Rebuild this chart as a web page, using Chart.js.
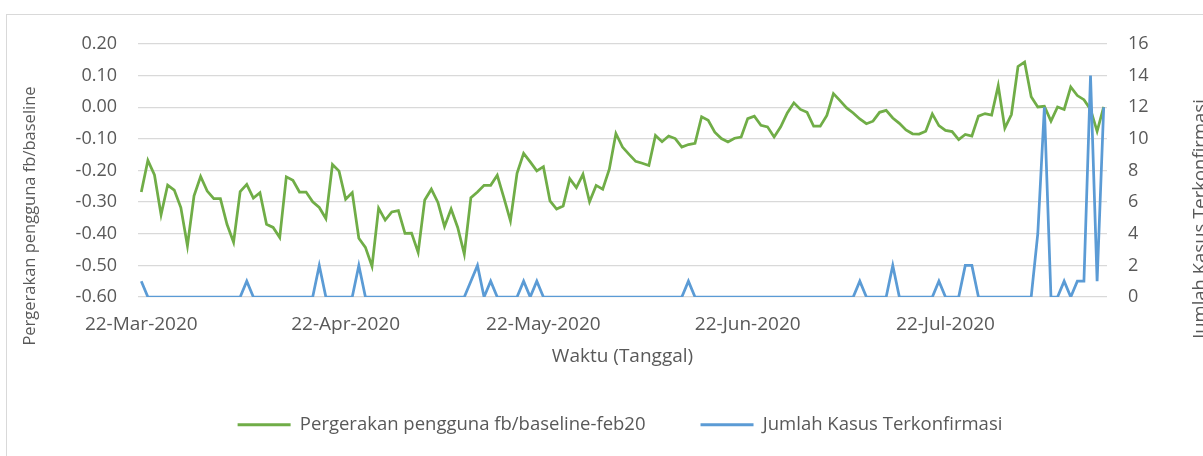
<!DOCTYPE html>
<html>
<head>
<meta charset="utf-8">
<script src="https://cdn.jsdelivr.net/npm/chart.js@4.4.1/dist/chart.umd.min.js"></script>
<style>
  html, body { margin: 0; padding: 0; background: #fff; overflow: hidden; }
  #frame { position: absolute; left: 6px; top: 14px; width: 1300px; height: 500px; border: 1px solid #d9d9d9; }
  #chart { position: absolute; left: 0; top: 0; }
</style>
</head>
<body>
<div id="frame"></div>
<canvas id="chart" width="1203" height="456"></canvas>
<script>
// daily series, starting 22 Mar 2020
const startDate = [2020, 2, 22];
const monthNames = ["Jan", "Feb", "Mar", "Apr", "May", "Jun", "Jul", "Aug", "Sep", "Oct", "Nov", "Dec"];

// fb user movement relative to the Feb 2020 baseline
const mobility = [
  -0.268, -0.168, -0.214, -0.340, -0.246, -0.262, -0.317, -0.438, -0.280, -0.219,
  -0.265, -0.289, -0.289, -0.370, -0.427, -0.267, -0.244, -0.287, -0.270, -0.370,
  -0.380, -0.412, -0.220, -0.231, -0.268, -0.268, -0.299, -0.317, -0.352, -0.181,
  -0.202, -0.291, -0.270, -0.414, -0.443, -0.503, -0.319, -0.357, -0.331, -0.327,
  -0.399, -0.398, -0.459, -0.293, -0.259, -0.301, -0.377, -0.322, -0.380, -0.464,
  -0.286, -0.268, -0.247, -0.247, -0.215, -0.286, -0.359, -0.209, -0.146, -0.173,
  -0.201, -0.188, -0.296, -0.322, -0.312, -0.226, -0.254, -0.212, -0.299, -0.247,
  -0.259, -0.196, -0.083, -0.126, -0.149, -0.171, -0.177, -0.184, -0.089, -0.109,
  -0.091, -0.099, -0.126, -0.118, -0.114, -0.030, -0.041, -0.079, -0.099, -0.110,
  -0.098, -0.094, -0.036, -0.028, -0.057, -0.062, -0.094, -0.062, -0.018, 0.014,
  -0.007, -0.016, -0.060, -0.060, -0.026, 0.043, 0.021, -0.002, -0.018, -0.037,
  -0.052, -0.044, -0.016, -0.010, -0.034, -0.051, -0.072, -0.084, -0.085, -0.076,
  -0.021, -0.058, -0.073, -0.077, -0.102, -0.086, -0.091, -0.028, -0.020, -0.025,
  0.068, -0.066, -0.023, 0.129, 0.143, 0.033, 0.001, 0.003, -0.044, 0.001,
  -0.007, 0.064, 0.037, 0.024, -0.007, -0.076, 0.001
];

// confirmed cases per day
const cases = [
  1, 0, 0, 0, 0, 0, 0, 0, 0, 0,
  0, 0, 0, 0, 0, 0, 1, 0, 0, 0,
  0, 0, 0, 0, 0, 0, 0, 2, 0, 0,
  0, 0, 0, 2, 0, 0, 0, 0, 0, 0,
  0, 0, 0, 0, 0, 0, 0, 0, 0, 0,
  1, 2, 0, 1, 0, 0, 0, 0, 1, 0,
  1, 0, 0, 0, 0, 0, 0, 0, 0, 0,
  0, 0, 0, 0, 0, 0, 0, 0, 0, 0,
  0, 0, 0, 1, 0, 0, 0, 0, 0, 0,
  0, 0, 0, 0, 0, 0, 0, 0, 0, 0,
  0, 0, 0, 0, 0, 0, 0, 0, 0, 1,
  0, 0, 0, 0, 2, 0, 0, 0, 0, 0,
  0, 1, 0, 0, 0, 2, 2, 0, 0, 0,
  0, 0, 0, 0, 0, 0, 4, 12, 0, 0,
  1, 0, 1, 1, 14, 1, 12
];

const leftTicks = [-0.6, 0.2, 0.1];   // min, max, step
const rightTicks = [0, 16, 2];

const labels = mobility.map((_, i) => {
  const d = new Date(Date.UTC(startDate[0], startDate[1], startDate[2] + i));
  return d.getUTCDate() + "-" + monthNames[d.getUTCMonth()] + "-" + d.getUTCFullYear();
});

const green = "#70ad47";
const blue = "#5b9bd5";
const textColor = "#595959";
const gridColor = "#d9d9d9";
const family = "'Open Sans', sans-serif";

// both value-axis titles read bottom to top
const axisTitles = {
  id: "axisTitles",
  afterDraw(chart) {
    const ctx = chart.ctx;
    ctx.save();
    ctx.fillStyle = textColor;
    ctx.font = "16.5px " + family;
    ctx.textAlign = "center";
    ctx.textBaseline = "middle";
    ctx.translate(30, 216);
    ctx.rotate(-Math.PI / 2);
    ctx.fillText("Pergerakan pengguna fb/baseline", 0, 0);
    ctx.restore();

    ctx.save();
    ctx.fillStyle = textColor;
    ctx.font = "18.5px " + family;
    ctx.textAlign = "center";
    ctx.textBaseline = "middle";
    ctx.translate(1201, 219);
    ctx.rotate(-Math.PI / 2);
    ctx.fillText("Jumlah Kasus Terkonfirmasi", 0, 0);
    ctx.restore();
  }
};

new Chart(document.getElementById("chart"), {
  type: "line",
  data: {
    labels: labels,
    datasets: [
      {
        label: "Pergerakan pengguna fb/baseline-feb20",
        data: mobility,
        borderColor: green,
        backgroundColor: green,
        borderWidth: 2.75,
        pointRadius: 0,
        tension: 0,
        yAxisID: "y",
        order: 1,
      },
      {
        label: "Jumlah Kasus Terkonfirmasi",
        data: cases,
        borderColor: blue,
        backgroundColor: blue,
        borderWidth: 2.75,
        pointRadius: 0,
        tension: 0,
        yAxisID: "y2",
        order: 0,
      },
    ],
  },
  options: {
    responsive: false,
    animation: false,
    layout: {
      padding: { left: 42, right: 5, top: 44, bottom: 12 },
    },
    scales: {
      x: {
        offset: true,
        grid: { display: false },
        border: { display: false },
        ticks: {
          autoSkip: false,
          maxRotation: 0,
          minRotation: 0,
          padding: 8,
          color: textColor,
          font: { family: family, size: 19 },
          callback: (v, i) => (labels[i].startsWith("22-") ? labels[i] : ""),
        },
        title: {
          display: true,
          text: "Waktu (Tanggal)",
          color: textColor,
          font: { family: family, size: 19 },
          padding: { top: 0, bottom: -7 },
        },
        afterFit: (scale) => { scale.height = 63.5; },
      },
      y: {
        position: "left",
        min: leftTicks[0],
        max: leftTicks[1],
        grid: { color: gridColor, lineWidth: 1.3, drawTicks: false },
        border: { display: false },
        ticks: {
          stepSize: leftTicks[2],
          padding: 21,
          color: textColor,
          font: { family: family, size: 18 },
          callback: (v) => v.toFixed(2),
        },
        afterFit: (scale) => { scale.width = 96; },
      },
      y2: {
        position: "right",
        min: rightTicks[0],
        max: rightTicks[1],
        grid: { display: false, drawTicks: false },
        border: { display: false },
        ticks: {
          stepSize: rightTicks[2],
          padding: 21,
          color: textColor,
          font: { family: family, size: 18 },
        },
        afterFit: (scale) => { scale.width = 91; },
      },
    },
    plugins: {
      legend: {
        position: "bottom",
        labels: {
          boxWidth: 53,
          boxHeight: 3,
          padding: 55,
          color: textColor,
          font: { family: family, size: 18.5 },
          sort: (a, b) => a.datasetIndex - b.datasetIndex,
          generateLabels: (chart) =>
            Chart.defaults.plugins.legend.labels.generateLabels(chart).map((item) => {
              item.lineWidth = 0;
              item.fillStyle = item.strokeStyle;
              return item;
            }),
        },
      },
      tooltip: { enabled: false },
    },
  },
  plugins: [axisTitles],
});
</script>
</body>
</html>
